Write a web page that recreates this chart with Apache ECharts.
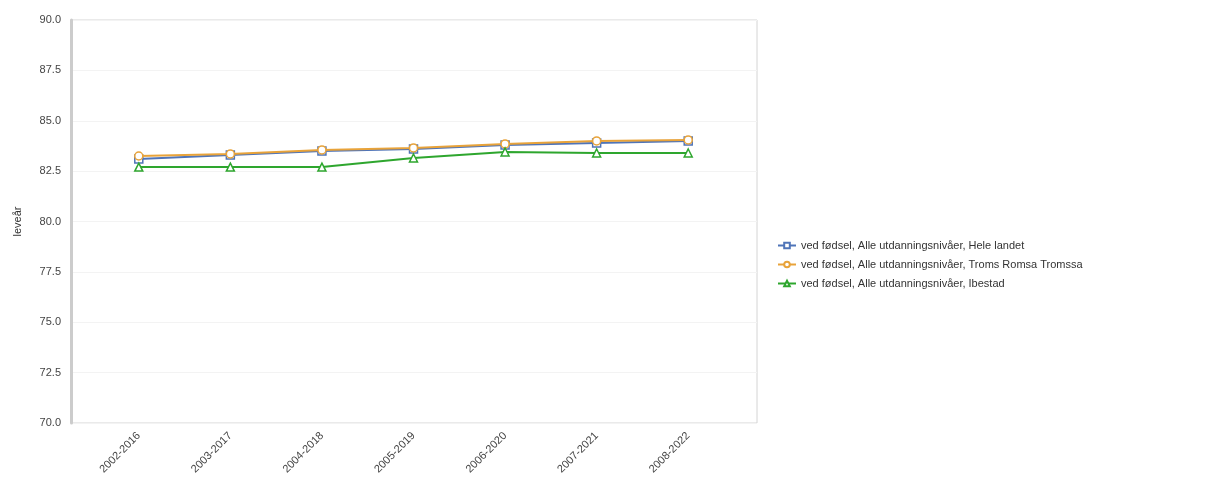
<!DOCTYPE html>
<html><head><meta charset="utf-8">
<script src="https://cdn.jsdelivr.net/npm/echarts@6/dist/echarts.min.js"></script>
<style>html,body{margin:0;padding:0;background:#fff}#c{width:1208px;height:484px}</style>
</head><body><div id="c"></div>
<script>
const categories = ["2002-2016","2003-2017","2004-2018","2005-2019","2006-2020","2007-2021","2008-2022"];
const heleLandet = [83.1, 83.3, 83.5, 83.6, 83.8, 83.9, 84.0];
const troms = [83.25, 83.35, 83.55, 83.65, 83.85, 84.0, 84.05];
const ibestad = [82.7, 82.7, 82.7, 83.15, 83.45, 83.4, 83.4];
const seriesNames = [
  "ved fødsel, Alle utdanningsnivåer, Hele landet",
  "ved fødsel, Alle utdanningsnivåer, Troms Romsa Tromssa",
  "ved fødsel, Alle utdanningsnivåer, Ibestad"
];
const yTicks = {min: 70, max: 90, interval: 2.5};

const chart = echarts.init(document.getElementById('c'), null, {renderer: 'canvas'});
const font = 'Liberation Sans, Arial, sans-serif';
function mk(name, data, color, symbol, z) {
  return {
    name, type: 'line', data, xAxisIndex: 1, yAxisIndex: 1,
    symbol, symbolSize: 8, showAllSymbol: true, z,
    lineStyle: {color, width: 2},
    itemStyle: {color: '#fff', borderColor: color, borderWidth: 1.5}
  };
}
chart.setOption({
  animation: false,
  textStyle: {fontFamily: font},
  grid: [
    {left: 71, right: 451, top: 20, bottom: 61, show: true, borderColor: '#d4d4d4', borderWidth: 1, backgroundColor: '#fff', containLabel: false, outerBoundsMode: 'none'},
    {left: 93, right: 474, top: 20, bottom: 61, containLabel: false, outerBoundsMode: 'none'}
  ],
  xAxis: [
    {type: 'category', gridIndex: 0, data: categories, show: false},
    {type: 'category', gridIndex: 1, data: categories, boundaryGap: true,
     axisLine: {show: false}, axisTick: {show: false},
     axisLabel: {rotate: 45, color: '#444', fontSize: 11, fontFamily: font, margin: 11, interval: 0}}
  ],
  yAxis: [
    {type: 'value', gridIndex: 0, min: yTicks.min, max: yTicks.max, interval: yTicks.interval,
     name: 'leveår', nameLocation: 'middle', nameGap: 48, nameRotate: 90,
     nameTextStyle: {color: '#333', fontSize: 11, fontFamily: font},
     axisLine: {show: true, lineStyle: {color: '#cccccc', width: 3}},
     axisTick: {show: false},
     axisLabel: {color: '#444', fontSize: 11, fontFamily: font, margin: 10, formatter: v => v.toFixed(1)},
     splitLine: {show: true, lineStyle: {color: '#f3f3f3', width: 1}}},
    {type: 'value', gridIndex: 1, min: yTicks.min, max: yTicks.max, interval: yTicks.interval, show: false, splitLine: {show: false}}
  ],
  legend: {
    orient: 'vertical', left: 772, top: 235, itemGap: 8, itemWidth: 18, itemHeight: 7,
    textStyle: {color: '#333', fontSize: 11, fontFamily: font},
    data: seriesNames
  },
  series: [
    mk(seriesNames[0], heleLandet, '#4f74b8', 'rect', 3),
    mk(seriesNames[1], troms, '#e8a33a', 'circle', 4),
    mk(seriesNames[2], ibestad, '#2ea62e', 'triangle', 5)
  ]
});
</script></body></html>
